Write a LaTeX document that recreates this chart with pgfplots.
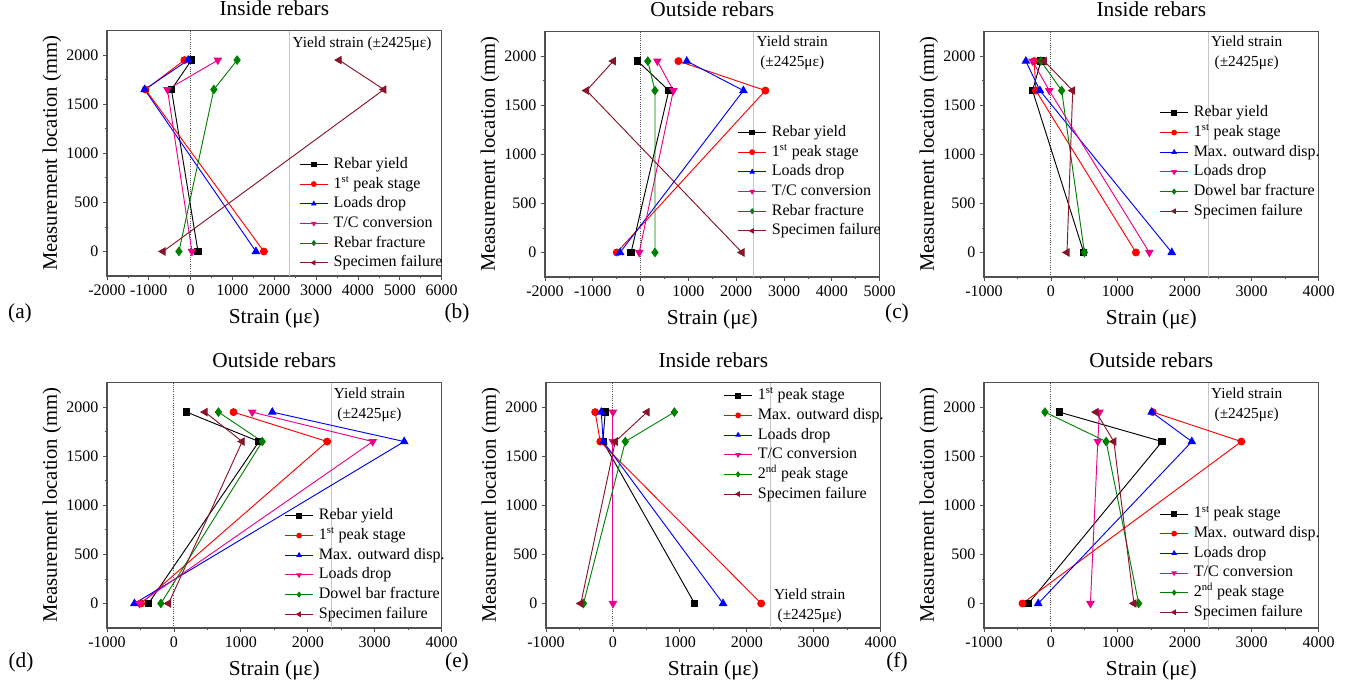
\documentclass[border=0pt]{standalone}
\usepackage{fontspec}
\setmainfont{Liberation Serif}
\usepackage{pgfplots}
\pgfplotsset{compat=1.18}
\definecolor{cwine}{RGB}{135,20,40}
\definecolor{cgreen}{RGB}{0,128,0}
\definecolor{caxis}{RGB}{80,80,80}
\pgfplotsset{
  panel/.style={
    scale only axis, width=251pt, height=184pt,
    ymin=-250, ymax=2250, ytick={0,500,1000,1500,2000},
    minor x tick num=1, minor y tick num=1,
    tick align=outside, xtick pos=left, ytick pos=left,
    axis line style={caxis, line width=0.8pt},
    major tick length=3pt, minor tick length=1.8pt,
    every tick/.style={caxis, line width=0.6pt},
    ticklabel style={font=\fontsize{12}{12}\selectfont},
    /pgf/number format/assume math mode=true,
    /pgf/number format/set thousands separator={},
    xlabel={Strain (με)}, ylabel={Measurement location (mm)},
    xlabel style={font=\fontsize{16}{16}\selectfont, at={(axis description cs:0.5,-0.171)}, anchor=center},
    ylabel style={font=\fontsize{15.5}{15.5}\selectfont, at={(axis description cs:-0.165,0.5)}, anchor=center},
    title style={font=\fontsize{16}{16}\selectfont, at={(axis description cs:0.5,1.059)}, anchor=center},
    legend cell align=left,
    legend style={draw=none, fill=none, anchor=north west, inner sep=0pt,
      font=\fontsize{12}{12}\selectfont, column sep=4pt, row sep=0pt,
      nodes={inner sep=0pt, text height=9pt, text depth=3pt, inner ysep=1.375pt}},
    legend image code/.code={\draw[#1,mark=none] (0pt,0pt) -- (21pt,0pt);
      \draw[#1, mark size=1.8pt] plot coordinates {(10.5pt,0pt)};},
  },
  s1/.style={black, line width=0.7pt, mark=square*, mark size=2.4pt, mark options={solid}},
  s2/.style={red, line width=0.7pt, mark=*, mark size=2.6pt, mark options={solid}},
  s3/.style={blue, line width=0.7pt, mark=triangle*, mark size=3.1pt, mark options={solid}},
  s4/.style={magenta, line width=0.7pt, mark=triangle*, mark size=3.1pt, mark options={solid, rotate=180}},
  s5/.style={cgreen, line width=0.7pt, mark=diamond*, mark size=3.1pt, mark options={solid}},
  s6/.style={cwine, line width=0.7pt, mark=triangle*, mark size=3.1pt, mark options={solid, rotate=90}},
  zline/.style={densely dotted, caxis, line width=0.7pt, forget plot},
  yline/.style={gray!45, line width=0.7pt, forget plot},
}
\newcommand{\yfont}{\fontsize{11.5}{15}\selectfont}
\begin{document}
\begin{tikzpicture}
\useasboundingbox (0,0) rectangle (1011.75pt,515.25pt);
% ---------------- (a)
\begin{axis}[panel, at={(80.25pt,308.25pt)}, anchor=south west,
  xmin=-2000, xmax=6000, xtick={-2000,-1000,...,6000},
  title={Inside rebars}, legend style={at={(axis description cs:0.574,0.496)}}]
\addplot[yline] coordinates {(2350,-250) (2350,2250)};
\addplot[zline] coordinates {(0,-250) (0,2250)};
\addplot[s1] coordinates {(20,1950) (-460,1650) (175,0)};
\addplot[s2] coordinates {(-150,1950) (-1080,1650) (1750,0)};
\addplot[s3] coordinates {(-60,1950) (-1100,1650) (1560,0)};
\addplot[s4] coordinates {(650,1950) (-555,1650) (30,0)};
\addplot[s5] coordinates {(1110,1950) (555,1650) (-280,0)};
\addplot[s6] coordinates {(3550,1950) (4620,1650) (-660,0)};
\legend{Rebar yield, 1\textsuperscript{st} peak stage, Loads drop, T/C conversion, Rebar fracture, Specimen failure}
\node[anchor=west, inner sep=0pt, font=\yfont] at (axis cs:2430,2112) {Yield strain (±2425με)};
\end{axis}
% ---------------- (b)
\begin{axis}[panel, at={(408.75pt,307.5pt)}, anchor=south west,
  xmin=-2000, xmax=5000, xtick={-2000,-1000,...,5000},
  title={Outside rebars}, legend style={at={(axis description cs:0.575,0.63)}}]
\addplot[yline] coordinates {(2350,-250) (2350,2250)};
\addplot[zline] coordinates {(0,-250) (0,2250)};
\addplot[s1] coordinates {(-60,1950) (590,1650) (-200,0)};
\addplot[s2] coordinates {(790,1950) (2610,1650) (-500,0)};
\addplot[s3] coordinates {(965,1950) (2150,1650) (-430,0)};
\addplot[s4] coordinates {(350,1950) (685,1650) (-30,0)};
\addplot[s5] coordinates {(150,1950) (300,1650) (300,0)};
\addplot[s6] coordinates {(-570,1950) (-1130,1650) (2120,0)};
\legend{Rebar yield, 1\textsuperscript{st} peak stage, Loads drop, T/C conversion, Rebar fracture, Specimen failure}
\node[align=center, inner sep=0pt, font=\yfont] at (axis cs:3172,2030) {Yield strain\\(±2425με)};
\end{axis}
% ---------------- (c)
\begin{axis}[panel, at={(738pt,307.5pt)}, anchor=south west,
  xmin=-1000, xmax=4000, xtick={-1000,0,...,4000},
  title={Inside rebars}, legend style={at={(axis description cs:0.524,0.71)}}]
\addplot[yline] coordinates {(2350,-250) (2350,2250)};
\addplot[zline] coordinates {(0,-250) (0,2250)};
\addplot[s1] coordinates {(-150,1950) (-275,1650) (490,0)};
\addplot[s2] coordinates {(-250,1950) (-225,1650) (1270,0)};
\addplot[s3] coordinates {(-375,1950) (-165,1650) (1805,0)};
\addplot[s4] coordinates {(-275,1950) (-25,1650) (1470,0)};
\addplot[s5] coordinates {(-150,1950) (160,1650) (500,0)};
\addplot[s6] coordinates {(-100,1950) (325,1650) (240,0)};
\legend{Rebar yield, 1\textsuperscript{st} peak stage, Max. outward disp., Loads drop, Dowel bar fracture, Specimen failure}
\node[align=center, inner sep=0pt, font=\yfont] at (axis cs:2924,2030) {Yield strain\\(±2425με)};
\end{axis}
% ---------------- (d)
\begin{axis}[panel, at={(80.25pt,44.25pt)}, anchor=south west,
  xmin=-1000, xmax=4000, xtick={-1000,0,...,4000},
  title={Outside rebars}, legend style={at={(axis description cs:0.53,0.498)}}]
\addplot[yline] coordinates {(2350,-250) (2350,2250)};
\addplot[zline] coordinates {(0,-250) (0,2250)};
\addplot[s1] coordinates {(190,1950) (1270,1650) (-380,0)};
\addplot[s2] coordinates {(890,1950) (2290,1650) (-490,0)};
\addplot[s3] coordinates {(1470,1950) (3440,1650) (-590,0)};
\addplot[s4] coordinates {(1170,1950) (2970,1650) (-515,0)};
\addplot[s5] coordinates {(665,1950) (1320,1650) (-195,0)};
\addplot[s6] coordinates {(465,1950) (1020,1650) (-80,0)};
\legend{Rebar yield, 1\textsuperscript{st} peak stage, Max. outward disp., Loads drop, Dowel bar fracture, Specimen failure}
\node[align=center, inner sep=0pt, font=\yfont] at (axis cs:2921,2021) {Yield strain\\(±2425με)};
\end{axis}
% ---------------- (e)
\begin{axis}[panel, at={(409.5pt,44.25pt)}, anchor=south west,
  xmin=-1000, xmax=4000, xtick={-1000,0,...,4000},
  title={Inside rebars}, legend style={at={(axis description cs:0.53,0.988)}}]
\addplot[yline] coordinates {(2350,-250) (2350,2250)};
\addplot[zline] coordinates {(0,-250) (0,2250)};
\addplot[s1] coordinates {(-115,1950) (-150,1650) (1220,0)};
\addplot[s2] coordinates {(-265,1950) (-190,1650) (2215,0)};
\addplot[s3] coordinates {(-175,1950) (-145,1650) (1645,0)};
\addplot[s4] coordinates {(0,1950) (0,1650) (0,0)};
\addplot[s5] coordinates {(918,1950) (185,1650) (-440,0)};
\addplot[s6] coordinates {(510,1950) (35,1650) (-480,0)};
\legend{1\textsuperscript{st} peak stage, Max. outward disp., Loads drop, T/C conversion, 2\textsuperscript{nd} peak stage, Specimen failure}
\node[align=center, inner sep=0pt, font=\yfont] at (axis cs:2939,-27) {Yield strain\\(±2425με)};
\end{axis}
% ---------------- (f)
\begin{axis}[panel, at={(738pt,44.25pt)}, anchor=south west,
  xmin=-1000, xmax=4000, xtick={-1000,0,...,4000},
  title={Outside rebars}, legend style={at={(axis description cs:0.524,0.506)}}]
\addplot[yline] coordinates {(2350,-250) (2350,2250)};
\addplot[zline] coordinates {(0,-250) (0,2250)};
\addplot[s1] coordinates {(125,1950) (1660,1650) (-335,0)};
\addplot[s2] coordinates {(1520,1950) (2845,1650) (-425,0)};
\addplot[s3] coordinates {(1505,1950) (2105,1650) (-190,0)};
\addplot[s4] coordinates {(725,1950) (700,1650) (590,0)};
\addplot[s5] coordinates {(-90,1950) (825,1650) (1310,0)};
\addplot[s6] coordinates {(675,1950) (940,1650) (1240,0)};
\legend{1\textsuperscript{st} peak stage, Max. outward disp., Loads drop, T/C conversion, 2\textsuperscript{nd} peak stage, Specimen failure}
\node[align=center, inner sep=0pt, font=\yfont] at (axis cs:2924,2021) {Yield strain\\(±2425με)};
\end{axis}
% panel letters
\node[font=\fontsize{16}{16}\selectfont] at (15pt,280.5pt) {(a)};
\node[font=\fontsize{16}{16}\selectfont] at (342.75pt,280.5pt) {(b)};
\node[font=\fontsize{16}{16}\selectfont] at (672.75pt,280.5pt) {(c)};
\node[font=\fontsize{16}{16}\selectfont] at (15.75pt,18.75pt) {(d)};
\node[font=\fontsize{16}{16}\selectfont] at (342.75pt,18.75pt) {(e)};
\node[font=\fontsize{16}{16}\selectfont] at (672.75pt,18.75pt) {(f)};
\end{tikzpicture}
\end{document}
